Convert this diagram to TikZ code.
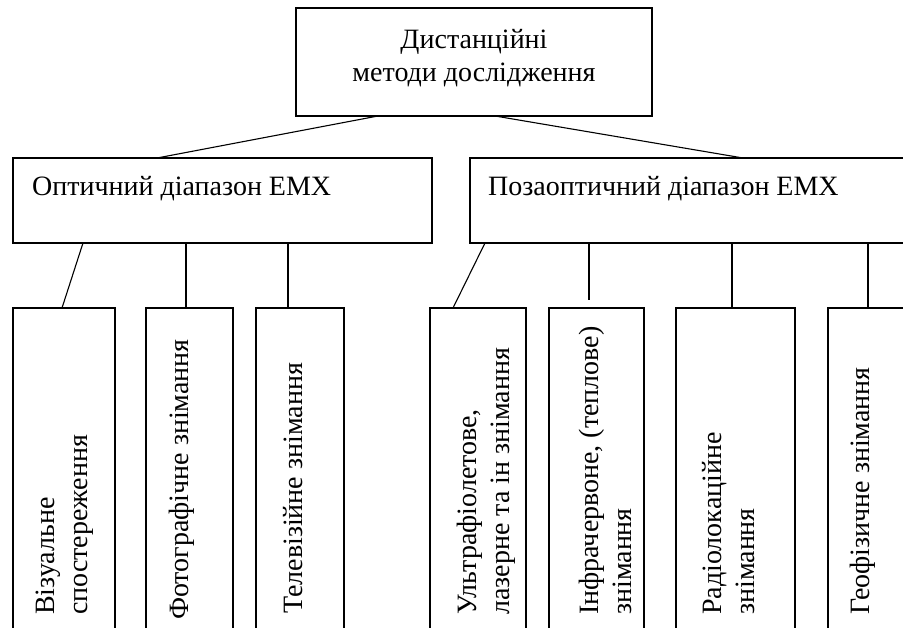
\documentclass[tikz,border=0pt]{standalone}
\usepackage{fontspec}
\setmainfont{Liberation Serif}
\usetikzlibrary{calc,positioning}

\begin{document}
\begin{tikzpicture}[x=1pt,y=-1pt,
  box/.style={draw,line width=1.1pt,inner sep=0pt,outer sep=0pt,anchor=north west},
  lbl/.style={inner sep=0pt,font=\fontsize{28}{33}\selectfont},
  vlbl/.style={lbl,rotate=90,anchor=west,align=left},
  link/.style={line width=1.1pt}]
\useasboundingbox (0,0) rectangle (903,628);
\clip (0,0) rectangle (903,628);
% ---- root ----
\node[box,minimum width=356pt,minimum height=108pt] (root) at (296,8) {};
\node[lbl,align=center] (roottxt) at (474,58) {Дистанційні\\методи дослідження};
% ---- ranges ----
\node[box,minimum width=419pt,minimum height=85pt] (opt) at (13,158) {};
\node[lbl,anchor=base west] (opttxt) at (32,196) {Оптичний діапазон ЕМХ};
\node[box,minimum width=480pt,minimum height=85pt] (nonopt) at (470,158) {};
\node[lbl,anchor=base west] (nonopttxt) at (488,196) {Позаоптичний діапазон ЕМХ};
\draw[link] ([xshift=82pt]root.south west) -- ([xshift=144pt]opt.north west);
\draw[link] ([xshift=199pt]root.south west) -- ([xshift=273pt]nonopt.north west);
% ---- optical methods ----
\node[box,minimum width=102pt,minimum height=340pt] (visual) at (13,308) {};
\node[box,minimum width=87pt,minimum height=340pt] (photo) at (146,308) {};
\node[box,minimum width=88pt,minimum height=340pt] (tv) at (256,308) {};
\node[vlbl] (visualtxt) at (65,615) {Візуальне\\спостереження};
\node[vlbl] (phototxt) at (182,620) {Фотографічне знімання};
\node[vlbl] (tvtxt) at (293,614) {Телевізійне знімання};
\draw[link] ([xshift=70pt]opt.south west) -- ([xshift=49pt]visual.north west);
\draw[link] ([xshift=173pt]opt.south west) -- ([xshift=40pt]photo.north west);
\draw[link] ([xshift=275pt]opt.south west) -- ([xshift=32pt]tv.north west);
% ---- non-optical methods ----
\node[box,minimum width=96pt,minimum height=340pt] (uv) at (430,308) {};
\node[box,minimum width=95pt,minimum height=340pt] (ir) at (549,308) {};
\node[box,minimum width=119pt,minimum height=340pt] (radar) at (676,308) {};
\node[box,minimum width=120pt,minimum height=340pt] (geo) at (828,308) {};
\node[vlbl] (uvtxt) at (486,615) {Ультрафіолетове,\\лазерне та ін знімання};
\node[vlbl] (irtxt) at (605,615) {Інфрачервоне, (теплове)\\знімання};
\node[vlbl] (radartxt) at (729,615) {Радіолокаційне\\знімання};
\node[vlbl] (geotxt) at (863,615) {Геофізичне знімання};
\draw[link] ([xshift=15pt]nonopt.south west) -- ([xshift=23pt]uv.north west);
\draw[link,shorten >=8pt] ([xshift=119pt]nonopt.south west) -- ([xshift=40pt]ir.north west);
\draw[link] ([xshift=262pt]nonopt.south west) -- ([xshift=56pt]radar.north west);
\draw[link] ([xshift=398pt]nonopt.south west) -- ([xshift=40pt]geo.north west);
\end{tikzpicture}
\end{document}
